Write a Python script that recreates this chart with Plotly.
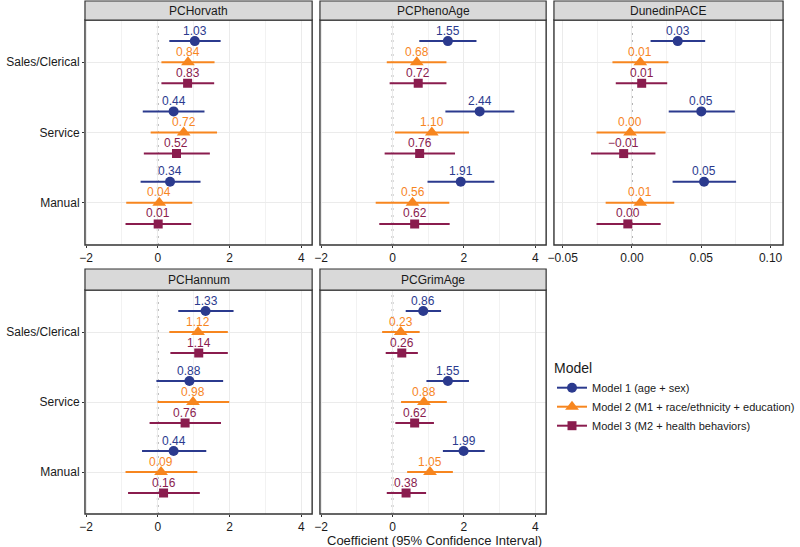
import plotly.graph_objects as go

# categories (top to bottom) and models
categories = ["Sales/Clerical", "Service", "Manual"]
models = ["Model 1 (age + sex)", "Model 2 (M1 + race/ethnicity + education)", "Model 3 (M2 + health behaviors)"]
clocks = ["PCHorvath", "PCPhenoAge", "DunedinPACE", "PCHannum", "PCGrimAge"]

# estimates / lower / upper per model (rows) and category (cols)
horvath_est = [[1.03, 0.44, 0.34], [0.84, 0.72, 0.04], [0.83, 0.52, 0.01]]
horvath_lo = [[0.32, -0.42, -0.48], [0.10, -0.20, -0.88], [0.10, -0.39, -0.90]]
horvath_hi = [[1.75, 1.30, 1.19], [1.58, 1.65, 0.96], [1.57, 1.45, 0.93]]

pheno_est = [[1.55, 2.44, 1.91], [0.68, 1.10, 0.56], [0.72, 0.76, 0.62]]
pheno_lo = [[0.75, 1.48, 0.98], [-0.16, 0.07, -0.47], [-0.08, -0.22, -0.37]]
pheno_hi = [[2.35, 3.41, 2.85], [1.51, 2.14, 1.59], [1.51, 1.75, 1.60]]

dunedin_est = [[0.033, 0.050, 0.052], [0.006, -0.0014, 0.006], [0.007, -0.006, -0.003]]
dunedin_lo = [[0.0134, 0.0265, 0.0293], [-0.0141, -0.0256, -0.019], [-0.0117, -0.0296, -0.0256]]
dunedin_hi = [[0.0528, 0.0742, 0.0751], [0.0263, 0.0242, 0.0305], [0.0254, 0.0169, 0.0207]]

hannum_est = [[1.33, 0.88, 0.44], [1.12, 0.98, 0.09], [1.14, 0.76, 0.16]]
hannum_lo = [[0.57, -0.04, -0.44], [0.32, -0.01, -0.90], [0.35, -0.23, -0.83]]
hannum_hi = [[2.11, 1.82, 1.35], [1.95, 1.99, 1.10], [1.95, 1.76, 1.17]]

grim_est = [[0.86, 1.55, 1.99], [0.23, 0.88, 1.05], [0.26, 0.62, 0.38]]
grim_lo = [[0.37, 0.95, 1.41], [-0.29, 0.24, 0.41], [-0.19, 0.08, -0.16]]
grim_hi = [[1.36, 2.14, 2.58], [0.76, 1.52, 1.69], [0.71, 1.16, 0.94]]

x_ticks_pc = [-2, 0, 2, 4]
x_ticktext_pc = ["\u22122", "0", "2", "4"]
x_ticks_dp = [-0.05, 0.00, 0.05, 0.10]
x_ticktext_dp = ["\u22120.05", "0.00", "0.05", "0.10"]

colors = ["#2B3A8E", "#F7861F", "#8A1C4E"]
symbols = ["circle", "triangle-up", "square"]
msizes = [10, 12, 9]
dodge = [0.3, 0.0, -0.3]

W, H = 800, 547
FONT = "Liberation Sans, Arial, sans-serif"

panel_data = [
    (horvath_est, horvath_lo, horvath_hi),
    (pheno_est, pheno_lo, pheno_hi),
    (dunedin_est, dunedin_lo, dunedin_hi),
    (hannum_est, hannum_lo, hannum_hi),
    (grim_est, grim_lo, grim_hi),
]
# panel pixel boxes (left, right, top, bottom) and strip tops
col_px = [(81, 314), (322, 554), (562, 797)]
row_px = [(20, 245), (290, 514)]
strip_top = [1, 269]
panel_pos = [(0, 0), (0, 1), (0, 2), (1, 0), (1, 1)]

cat_y = [3, 2, 1]


def fmt(v):
    r = round(v, 2) + 0.0
    return f"{r:.2f}".replace("-", "\u2212")


fig = go.Figure()
shapes = []
annotations = []

for p, (est, lo, hi) in enumerate(panel_data):
    r, c = panel_pos[p]
    ax = "" if p == 0 else str(p + 1)
    xa, ya = "x" + ax, "y" + ax
    for m in range(3):
        ys = [cat_y[k] + dodge[m] for k in range(3)]
        fig.add_trace(go.Scatter(
            x=est[m], y=ys, xaxis=xa, yaxis=ya,
            mode="markers",
            marker=dict(symbol=symbols[m], size=msizes[m], color=colors[m]),
            error_x=dict(type="data", symmetric=False,
                         array=[hi[m][k] - est[m][k] for k in range(3)],
                         arrayminus=[est[m][k] - lo[m][k] for k in range(3)],
                         color=colors[m], thickness=2, width=0),
            showlegend=False, hoverinfo="skip",
        ))
        for k in range(3):
            annotations.append(dict(
                text=fmt(est[m][k]), x=est[m][k], y=ys[k], xref=xa, yref=ya,
                showarrow=False, xanchor="center", yanchor="middle", yshift=10.5,
                font=dict(color=colors[m], size=12, family=FONT),
            ))
    l, rr = col_px[c]
    t, b = row_px[r]
    dom_x = [l / W, rr / W]
    dom_y = [1 - b / H, 1 - t / H]
    is_dp = clocks[p] == "DunedinPACE"
    xaxis = dict(
        domain=dom_x, anchor=ya,
        range=[-0.0563, 0.109] if is_dp else [-2.03, 4.3],
        tickvals=x_ticks_dp if is_dp else x_ticks_pc,
        ticktext=x_ticktext_dp if is_dp else x_ticktext_pc,
        showgrid=True, gridcolor="#ebebeb", gridwidth=1,
        minor=dict(dtick=0.025 if is_dp else 1, tick0=0.025 if is_dp else 1,
                   showgrid=True, gridcolor="#f2f2f2", gridwidth=1),
        zeroline=False, showline=False,
        ticks="outside", ticklen=2, tickcolor="#333333",
        tickfont=dict(size=12, color="#1a1a1a", family=FONT),
        fixedrange=True,
    )
    yaxis = dict(
        domain=dom_y, anchor=xa,
        range=[0.4, 3.6],
        tickvals=cat_y, ticktext=categories,
        showticklabels=(c == 0),
        showgrid=True, gridcolor="#ebebeb", gridwidth=1,
        zeroline=False, showline=False,
        ticks="outside" if c == 0 else "", ticklen=2, tickcolor="#333333",
        tickfont=dict(size=12, color="#1a1a1a", family=FONT),
        fixedrange=True,
    )
    fig.update_layout(**{"xaxis" + ax: xaxis, "yaxis" + ax: yaxis})

    # zero reference line
    shapes.append(dict(type="line", xref=xa, yref=ya + " domain", x0=0, x1=0, y0=0, y1=1,
                       line=dict(color="#b3b3b3", width=2, dash="2px,5px"), layer="below"))
    # panel border
    shapes.append(dict(type="rect", xref="paper", yref="paper",
                       x0=dom_x[0], x1=dom_x[1], y0=dom_y[0], y1=dom_y[1],
                       line=dict(color="#333333", width=1.4), fillcolor="rgba(0,0,0,0)"))
    # strip
    st = strip_top[r]
    shapes.append(dict(type="rect", xref="paper", yref="paper",
                       x0=dom_x[0], x1=dom_x[1], y0=1 - t / H, y1=1 - st / H,
                       line=dict(color="#333333", width=1.2), fillcolor="#d9d9d9"))
    annotations.append(dict(text=clocks[p], xref="paper", yref="paper",
                            x=(dom_x[0] + dom_x[1]) / 2, y=1 - (st + t) / 2 / H,
                            showarrow=False, xanchor="center", yanchor="middle",
                            font=dict(size=12, color="#1a1a1a", family=FONT)))

# legend entries
for m in range(3):
    fig.add_trace(go.Scatter(
        x=[None], y=[None], mode="lines+markers", name=models[m],
        marker=dict(symbol=symbols[m], size=msizes[m], color=colors[m]),
        line=dict(color=colors[m], width=2),
        showlegend=True,
    ))

annotations.append(dict(text="Coefficient (95% Confidence Interval)", xref="paper", yref="paper",
                        x=439 / W, y=1 - 540 / H, showarrow=False,
                        xanchor="center", yanchor="middle",
                        font=dict(size=13, color="#1a1a1a", family=FONT)))

fig.update_layout(
    width=W, height=H,
    margin=dict(l=0, r=0, t=0, b=0),
    paper_bgcolor="white", plot_bgcolor="white",
    font=dict(family=FONT, color="#1a1a1a"),
    shapes=shapes, annotations=annotations,
    legend=dict(
        title=dict(text="Model", font=dict(size=14, color="#1a1a1a")),
        x=560 / W, y=1 - 355 / H, xanchor="left", yanchor="top",
        font=dict(size=11, color="#1a1a1a"),
        bgcolor="rgba(0,0,0,0)", itemwidth=30, tracegroupgap=0,
    ),
)

fig.write_html("out.html", config={"displayModeBar": False},
               post_script="document.body.style.margin='0';")
